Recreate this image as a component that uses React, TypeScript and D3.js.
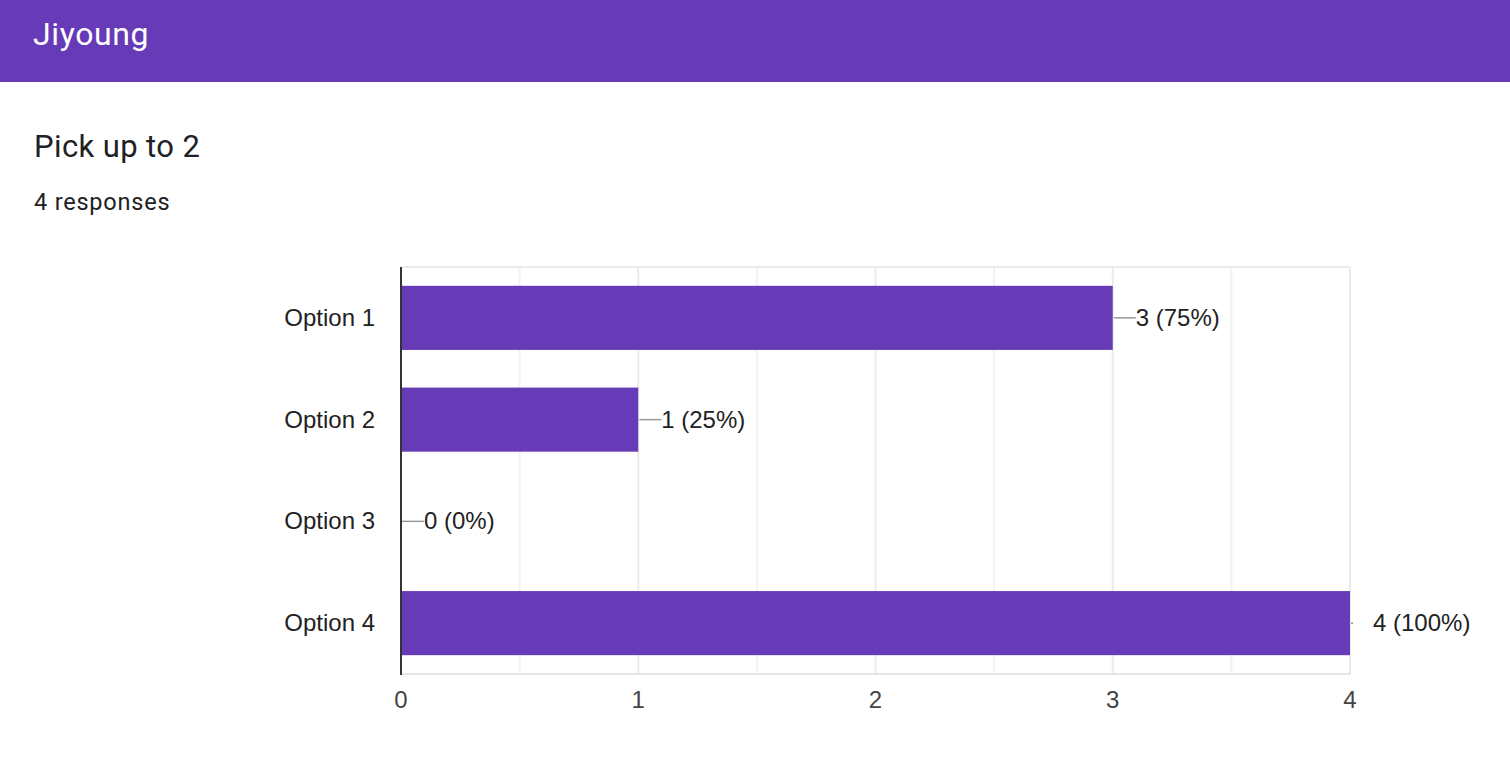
import React, { useEffect, useRef } from "react";
import * as d3 from "d3";

const categories = ["Option 1", "Option 2", "Option 3", "Option 4"];
const counts = [3, 1, 0, 4];
const totalResponses = 4;
const xTicks = [0, 1, 2, 3, 4];
const gridSteps = [0, 0.5, 1, 1.5, 2, 2.5, 3, 3.5, 4];

const App: React.FC = () => {
    const svgRef = useRef<SVGSVGElement | null>(null);

    useEffect(() => {
        if (!svgRef.current) return;
        const width = 1510;
        const height = 774;
        const purple = "#673ab7";

        const svg = d3.select(svgRef.current)
            .attr("width", width)
            .attr("height", height);
        svg.selectAll("*").remove();

        // header band
        svg.append("rect")
            .attr("x", 0).attr("y", 0)
            .attr("width", width).attr("height", 82)
            .attr("fill", purple);
        svg.append("text")
            .attr("x", 33).attr("y", 45)
            .attr("fill", "#fff")
            .style("font-family", "Roboto, 'Open Sans', sans-serif")
            .style("font-size", "32px")
            .style("letter-spacing", "0.6px")
            .text("Jiyoung");

        svg.append("text")
            .attr("x", 34).attr("y", 157)
            .attr("fill", "#202124")
            .style("font-family", "Roboto, sans-serif")
            .style("font-size", "31px")
            .style("letter-spacing", "0.4px")
            .text("Pick up to 2");
        svg.append("text")
            .attr("x", 34).attr("y", 210)
            .attr("fill", "#202124")
            .style("font-family", "Roboto, sans-serif")
            .style("font-size", "23.5px")
            .style("letter-spacing", "0.8px")
            .text(`${totalResponses} responses`);

        const left = 401, right = 1350, top = 267, bottom = 674;

        const x = d3.scaleLinear().domain([0, 4]).range([left, right]);
        const y = d3.scaleBand<string>()
            .domain(categories)
            .range([top, bottom])
            .paddingInner(0.37)
            .paddingOuter(0.185);

        const font = "'Liberation Sans', Arial, sans-serif";

        // gridlines
        svg.append("g")
            .selectAll("line")
            .data(gridSteps)
            .enter()
            .append("line")
            .attr("x1", d => x(d)).attr("x2", d => x(d))
            .attr("y1", top).attr("y2", bottom)
            .attr("stroke", d => Number.isInteger(d) ? "#ebebeb" : "#f2f2f2")
            .attr("stroke-width", 2);
        svg.append("line")
            .attr("x1", left).attr("x2", right)
            .attr("y1", top).attr("y2", top)
            .attr("stroke", "#ebebeb").attr("stroke-width", 2);
        svg.append("line")
            .attr("x1", left).attr("x2", right + 1)
            .attr("y1", bottom).attr("y2", bottom)
            .attr("stroke", "#e6e6e6").attr("stroke-width", 2);

        // bars
        svg.append("g")
            .selectAll("rect")
            .data(counts)
            .enter()
            .append("rect")
            .attr("x", x(0))
            .attr("y", (d, i) => y(categories[i])!)
            .attr("width", d => x(d) - x(0))
            .attr("height", y.bandwidth())
            .attr("fill", purple);

        // left axis line
        svg.append("line")
            .attr("x1", left).attr("x2", left)
            .attr("y1", top).attr("y2", bottom + 1)
            .attr("stroke", "#333").attr("stroke-width", 2);

        // leader lines + value labels
        const maxX = x(4);
        svg.append("g")
            .selectAll("line")
            .data(counts)
            .enter()
            .append("line")
            .attr("x1", d => x(d) + 1)
            .attr("x2", d => Math.min(x(d) + 23, maxX + 3))
            .attr("y1", (d, i) => y(categories[i])! + y.bandwidth() / 2)
            .attr("y2", (d, i) => y(categories[i])! + y.bandwidth() / 2)
            .attr("stroke", "#999")
            .attr("stroke-width", 1.5);

        svg.append("g")
            .selectAll("text")
            .data(counts)
            .enter()
            .append("text")
            .attr("x", d => x(d) + 23)
            .attr("y", (d, i) => y(categories[i])! + y.bandwidth() / 2 + 8)
            .attr("fill", "#222")
            .style("font-family", font)
            .style("font-size", "24px")
            .text(d => `${d} (${Math.round(d / totalResponses * 100)}%)`);

        // category labels
        svg.append("g")
            .selectAll("text")
            .data(categories)
            .enter()
            .append("text")
            .attr("x", 375)
            .attr("y", d => y(d)! + y.bandwidth() / 2 + 8)
            .attr("text-anchor", "end")
            .attr("fill", "#222")
            .style("font-family", font)
            .style("font-size", "24px")
            .text(d => d);

        // x tick labels
        svg.append("g")
            .selectAll("text")
            .data(xTicks)
            .enter()
            .append("text")
            .attr("x", d => x(d))
            .attr("y", 708)
            .attr("text-anchor", "middle")
            .attr("fill", "#444")
            .style("font-family", font)
            .style("font-size", "24px")
            .text(d => String(d));
    }, []);

    return (
        <svg ref={svgRef} style={{ position: "absolute", left: 0, top: 0, display: "block" }}></svg>
    );
};

export default App;
